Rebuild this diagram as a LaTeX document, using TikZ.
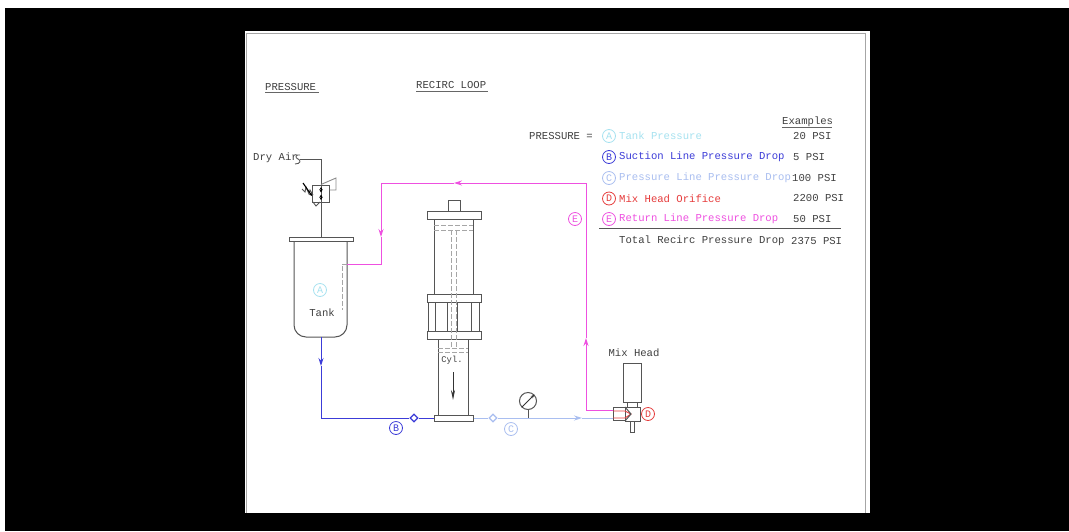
\documentclass[tikz,border=0pt]{standalone}
\usepackage{xcolor}
\usepackage{fontspec}
\usepackage{tikz}
\usetikzlibrary{arrows.meta,shapes.geometric}
\newfontfamily\cadfont{Liberation Mono}

\definecolor{cadgrey}{HTML}{555555}
\definecolor{tankcyan}{HTML}{A6E2F0}
\definecolor{suctionblue}{HTML}{3C3CD8}
\definecolor{pressblue}{HTML}{A9BEF0}
\definecolor{headred}{HTML}{E63C3C}
\definecolor{returnpink}{HTML}{EE50E0}

\tikzset{
    part/.style={draw=cadgrey, line width=1pt, rectangle, inner sep=0pt, fill=white},
    hidden/.style={draw=black!35, line width=0.9pt, dash pattern=on 5pt off 2pt},
    cadtext/.style={font=\cadfont\fontsize{10.6}{12}\selectfont, text=black!75, inner sep=0pt},
    tag/.style={draw, circle, line width=0.8pt, minimum size=13pt, inner sep=0pt, font=\cadfont\fontsize{10}{10}\selectfont},
    flowtip/.style={-{Stealth[length=8pt,width=5pt]}},
    flowline/.style={line width=0.9pt},
    check/.style={draw, diamond, line width=1.2pt, minimum size=8pt, inner sep=0pt, fill=white}
}

\begin{document}
\begin{tikzpicture}[x=1pt,y=-1pt]
    \useasboundingbox (0,0) rectangle (1069,531);

    % Sheet
    \fill[white] (0,0) rectangle (1069,531);
    \fill[black] (5,8) rectangle (1069,531);
    \fill[white] (245,31) rectangle (870,513);
    \draw[black!35, line width=1pt] (246,513) -- (246,33) -- (865,33) -- (865,513);

    % Titles
    \node[cadtext, anchor=west] (titlepress) at (265,87) {PRESSURE};
    \node[cadtext, anchor=west] (titleloop) at (416,85.5) {RECIRC LOOP};
    \draw[black!60, line width=0.9pt] (titlepress.west |- 0,92.5) -- (319,92.5);
    \draw[black!60, line width=0.9pt] (titleloop.west |- 0,91) -- (488,91);

    % Tank
    \node[part, minimum width=64, minimum height=3.5] (flange) at (321,239.5) {};
    \draw[cadgrey, line width=1pt, rounded corners=12pt] (294,241) -- (294,337) -- (347,337) -- (347,241);
    \coordinate (tankout) at (321,337);
    \coordinate (tubeout) at (347,264);
    \coordinate (tubein) at (342,264);
    \coordinate (tubeend) at (342,310);
    \draw[hidden] (tubeout) -- (tubein) -- (tubeend);
    \node[tag, draw=tankcyan, text=tankcyan] (tagA) at (320,290) {A};
    \node[cadtext] (tanklabel) at (322,312.5) {Tank};

    % Dry air and regulator
    \node[cadtext, anchor=west] (dryair) at (253,158) {Dry Air};
    \coordinate (airstart) at (300,159);
    \coordinate (aircorner) at (321,159);
    \draw[cadgrey, line width=1pt] (airstart) -- (aircorner) -- (flange.north -| aircorner);
    \draw[cadgrey, line width=0.9pt] (300,155) .. controls (295,154) and (295,158) .. (298,159) .. controls (301,160) and (301,164) .. (295,164);
    \node[part, fill=none, minimum width=17, minimum height=17] (valve) at (320.5,193.5) {};
    \draw[black!45, line width=0.9pt] (aircorner |- valve.north) -- (336,178) -- (336,190) -- (valve.east |- 0,190);
    \draw[cadgrey, line width=0.9pt] (313,202) -- (316,206) -- (320,202);
    \draw[cadgrey, line width=0.9pt] (302,189) -- (305,192) -- (306,187) -- (309,194) -- (310,190) -- (313,195);
    \draw[black, line width=1.1pt, -{Stealth[length=3pt,width=3pt]}] (303,183) -- (312,196);
    \draw[black, line width=0.8pt, {Stealth[length=3pt,width=3pt]}-{Stealth[length=3pt,width=3pt]}] (321,187) -- (321,192.5);
    \draw[black, line width=0.8pt, {Stealth[length=3pt,width=3pt]}-{Stealth[length=3pt,width=3pt]}] (321,194.5) -- (321,200);

    % Cylinder
    \node[part, minimum width=12, minimum height=11] (cylstub) at (454,205.5) {};
    \node[part, minimum width=54, minimum height=8] (cyltop) at (454,215) {};
    \node[part, minimum width=39, minimum height=75] (cylupper) at (453.5,256.5) {};
    \draw[part, fill=none] (428,302) -- (428,331) (435,302) -- (435,331) (471,302) -- (471,331) (479,302) -- (479,331);
    \draw[part, fill=none] (447,302) -- (447,331) (457,302) -- (457,331);
    \node[part, minimum width=54, minimum height=8] (cylmid) at (454,298) {};
    \node[part, minimum width=54, minimum height=8] (cyllow) at (454,335) {};
    \node[part, minimum width=30, minimum height=76] (cylbarrel) at (453,377) {};
    \node[part, minimum width=39, minimum height=6] (cylbase) at (453.5,418) {};
    \draw[hidden] (434,225) -- (473,225) (434,230) -- (473,230);
    \draw[hidden] (451,230) -- (451,348) (456,230) -- (456,348);
    \draw[hidden] (438,348) -- (468,348) (438,352) -- (468,352);
    \node[cadtext, font=\cadfont\fontsize{8.8}{10}\selectfont] (cyllabel) at (452,360) {Cyl.};
    \coordinate (pushstart) at (453,372);
    \coordinate (pushend) at (453,400);
    \draw[black!80, line width=0.9pt, -{Stealth[length=10pt,width=4pt]}] (pushstart) -- (pushend);

    % Mix head
    \node[part, minimum width=18, minimum height=39] (headtop) at (632,382.5) {};
    \node[part, minimum width=10, minimum height=5] (headneck) at (632,404.5) {};
    \node[part, minimum width=4, minimum height=11] (headstub) at (632,426.5) {};
    \node[part, minimum width=15, minimum height=14] (headbody) at (632.5,414) {};
    \node[part, minimum width=12, minimum height=13] (headport) at (619,413.5) {};
    \coordinate (portin) at (613,418);
    \coordinate (portout) at (613,410);
    \draw[headred, line width=0.9pt] (613,411) -- (625,411) -- (631,414) -- (625,418) -- (613,418);
    \draw[cadgrey, line width=1pt] (625,407) -- (631,414) -- (625,421);
    \node[cadtext] (headlabel) at (634,353) {Mix Head};
    \node[tag, draw=headred, text=headred] (tagDh) at (648,414) {D};

    % Gauge
    \node[draw=cadgrey, circle, line width=1pt, minimum size=17pt, inner sep=0pt] (gauge) at (528,401) {};
    \draw[black!80, line width=0.9pt, -{Stealth[length=4pt,width=3pt]}] (gauge.south west) -- (gauge.north east);

    % Suction line
    \node[check, draw=suctionblue] (checkB) at (414,418) {};
    \coordinate (suctionarrow) at (321,366);
    \draw[suctionblue, flowline, flowtip] (tankout) -- (suctionarrow);
    \draw[suctionblue, flowline] (suctionarrow) |- (checkB.west);
    \draw[suctionblue, flowline] (checkB.east) -- (cylbase.west);
    \node[tag, draw=suctionblue, text=suctionblue] (tagBl) at (396,428) {B};

    % Pressure line
    \node[check, draw=pressblue] (checkC) at (493,418) {};
    \coordinate (pressarrow) at (582,418);
    \draw[pressblue, flowline] (cylbase.east) -- (checkC.west);
    \draw[pressblue, flowline, flowtip] (checkC.east) -- (pressarrow);
    \draw[pressblue, flowline] (pressarrow) -- (portin);
    \draw[cadgrey, line width=1pt] (gauge.south) -- (gauge.south |- pressarrow);
    \node[tag, draw=pressblue, text=pressblue] (tagCl) at (511,429) {C};

    % Return line
    \coordinate (retup) at (586,338);
    \coordinate (retleft) at (454,183);
    \coordinate (retdown) at (381,237);
    \draw[returnpink, flowline, flowtip] (portout) -| (retup);
    \draw[returnpink, flowline, flowtip] (retup) |- (retleft);
    \draw[returnpink, flowline, flowtip] (retleft) -| (retdown);
    \draw[returnpink, flowline] (retdown) |- (tubeout);
    \node[tag, draw=returnpink, text=returnpink] (tagEl) at (575,219) {E};

    % Pressure table
    \node[cadtext, anchor=west] (pressure) at (529,136) {PRESSURE =};
    \node[cadtext, anchor=west] (examples) at (782,122) {Examples};
    \draw[black!60, line width=0.9pt] (examples.west |- 0,127) -- (832,127);

    \node[tag, draw=tankcyan, text=tankcyan] (rowA) at (609,136) {A};
    \node[tag, draw=suctionblue, text=suctionblue] (rowB) at (609,157) {B};
    \node[tag, draw=pressblue, text=pressblue] (rowC) at (609,178) {C};
    \node[tag, draw=headred, text=headred] (rowD) at (609,198.5) {D};
    \node[tag, draw=returnpink, text=returnpink] (rowE) at (609,219) {E};

    \node[cadtext, anchor=west, text=tankcyan] (textA) at (619,136) {Tank Pressure};
    \node[cadtext, anchor=west, text=suctionblue] (textB) at (619,157) {Suction Line Pressure Drop};
    \node[cadtext, anchor=west, text=pressblue] (textC) at (619,178) {Pressure Line Pressure Drop};
    \node[cadtext, anchor=west, text=headred] (textD) at (619,198.5) {Mix Head Orifice};
    \node[cadtext, anchor=west, text=returnpink] (textE) at (619,219) {Return Line Pressure Drop};

    \node[cadtext, anchor=west] (psiA) at (793,136) {20 PSI};
    \node[cadtext, anchor=west] (psiB) at (793,157) {5 PSI};
    \node[cadtext, anchor=west] (psiC) at (792,178) {100 PSI};
    \node[cadtext, anchor=west] (psiD) at (793,198.5) {2200 PSI};
    \node[cadtext, anchor=west] (psiE) at (793,219) {50 PSI};

    \coordinate (rulestart) at (599,228);
    \coordinate (ruleend) at (841,228);
    \draw[cadgrey, line width=1pt] (rulestart) -- (ruleend);

    \node[cadtext, anchor=west] (total) at (619,241) {Total Recirc Pressure Drop};
    \node[cadtext, anchor=west] (psitotal) at (791,241) {2375 PSI};
\end{tikzpicture}
\end{document}
